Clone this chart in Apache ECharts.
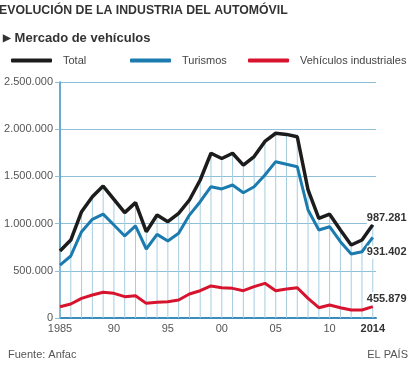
<!DOCTYPE html>
<html>
<head>
<meta charset="utf-8">
<script src="https://cdn.jsdelivr.net/npm/echarts@6/dist/echarts.min.js"></script>
<style>
html,body{margin:0;padding:0;background:#fff;}
#c{width:414px;height:365px;}
</style>
</head>
<body>
<div id="c"></div>
<script>
const years = [1985,1986,1987,1988,1989,1990,1991,1992,1993,1994,1995,1996,1997,1998,1999,2000,2001,2002,2003,2004,2005,2006,2007,2008,2009,2010,2011,2012,2013,2014];
const total = [710000,826000,1126000,1285000,1398000,1257000,1116000,1222000,914000,1091000,1020000,1109000,1250000,1462000,1745000,1690000,1745000,1620000,1710000,1870000,1957000,1945000,1920000,1356000,1056000,1100000,932000,773000,826000,987281];
const turismos = [561000,657000,914000,1045000,1100000,985000,869000,975000,731000,886000,816000,897000,1090000,1232000,1391000,1367000,1409000,1327000,1391000,1515000,1656000,1628000,1603000,1144000,932000,967000,808000,678000,702000,855000];
const industriales = [120000,148000,208000,244000,272000,261000,226000,236000,155000,166000,173000,190000,254000,289000,339000,321000,314000,289000,332000,367000,289000,307000,321000,208000,109000,138000,109000,85000,85000,120000];
const xTickYears = [1985,1990,1995,2000,2005,2010,2014];
const yTicks = [0,500000,1000000,1500000,2000000,2500000];
const endLabels = ['987.281','931.402','455.879'];

const fmtThousands = v => v === 0 ? '0' : String(v).replace(/\B(?=(\d{3})+(?!\d))/g, '.');
const pairs = arr => years.map((y, i) => [y, arr[i]]);

const chart = echarts.init(document.getElementById('c'), null, {renderer: 'canvas'});
const FONT = '"Liberation Sans", Arial, sans-serif';
const legendBase = {
  top: 55, padding: 0, itemWidth: 41, itemHeight: 4, icon: 'roundRect',
  textStyle: {fontFamily: FONT, fontSize: 11, color: '#444', padding: [0,0,0,6]},
  selectedMode: false
};
const endLabelStyle = (txt, off) => ({
  show: true, formatter: () => txt, fontFamily: FONT, fontSize: 11, fontWeight: 'bold',
  color: '#333', backgroundColor: '#fff', padding: [1,0,1,0], offset: off, distance: 0
});

chart.setOption({
  animation: false,
  backgroundColor: '#fff',
  title: [
    {text: 'EVOLUCIÓN DE LA INDUSTRIA DEL AUTOMÓVIL', left: -1, top: 5, padding: 0,
     textStyle: {fontFamily: FONT, fontSize: 12.3, fontWeight: 'bold', color: '#333'}},
    {text: '{b|▶} Mercado de vehículos', left: 3, top: 32, padding: 0,
     textStyle: {fontFamily: FONT, fontSize: 13, fontWeight: 'bold', color: '#333',
       rich: {b: {fontSize: 10, color: '#333', fontFamily: FONT}}}},
    {text: 'Fuente: Anfac', left: 8, top: 349, padding: 0,
     textStyle: {fontFamily: FONT, fontSize: 11, fontWeight: 'normal', color: '#555'}},
    {text: 'EL PAÍS', right: 6, top: 349, padding: 0,
     textStyle: {fontFamily: FONT, fontSize: 11, fontWeight: 'normal', color: '#555'}}
  ],
  legend: [
    Object.assign({}, legendBase, {left: 11, data: ['Total']}),
    Object.assign({}, legendBase, {left: 130, data: ['Turismos']}),
    Object.assign({}, legendBase, {left: 248, data: ['Vehículos industriales']})
  ],
  grid: {left: 60, right: 38, top: 82, bottom: 47, containLabel: false},
  xAxis: {
    type: 'value', min: 1985, max: 2014.3,
    axisLine: {show: true, onZero: false, lineStyle: {color: '#3a8dbd', width: 2}},
    axisTick: {show: false},
    splitLine: {show: false},
    axisLabel: {
      customValues: xTickYears,
      margin: 5,
      fontFamily: FONT, fontSize: 11, color: '#555',
      formatter: v => v === 1985 ? '1985' : (v === 2014 ? '{b|2014}' : String(v % 100).padStart(2, '0')),
      rich: {b: {fontWeight: 'bold', fontSize: 11, color: '#333', fontFamily: FONT}}
    }
  },
  yAxis: {
    type: 'value', min: 0, max: 2500000, interval: 500000,
    axisLine: {show: true, lineStyle: {color: '#3a8dbd', width: 1.5}},
    axisTick: {show: true, length: 5, lineStyle: {color: '#8fc0da'}},
    splitLine: {show: true, lineStyle: {color: '#8fc0da', width: 1}},
    axisLabel: {margin: 7, fontFamily: FONT, fontSize: 11, color: '#555', formatter: fmtThousands}
  },
  series: [
    {type: 'bar', data: pairs(total), barWidth: 1, silent: true, z: 1,
     itemStyle: {color: '#a6cde0'}},
    {name: 'Vehículos industriales', type: 'line', data: pairs(industriales), symbol: 'none', z: 3,
     lineStyle: {color: '#d7132d', width: 3}, itemStyle: {color: '#d7132d'},
     endLabel: endLabelStyle(endLabels[2], [-6, -8])},
    {name: 'Turismos', type: 'line', data: pairs(turismos), symbol: 'none', z: 4,
     lineStyle: {color: '#1b7bae', width: 3}, itemStyle: {color: '#1b7bae'},
     endLabel: endLabelStyle(endLabels[1], [-6, 15])},
    {name: 'Total', type: 'line', data: pairs(total), symbol: 'none', z: 5,
     lineStyle: {color: '#1c1c1c', width: 3.5}, itemStyle: {color: '#1c1c1c'},
     endLabel: endLabelStyle(endLabels[0], [-6, -7])}
  ]
});
</script>
</body>
</html>
